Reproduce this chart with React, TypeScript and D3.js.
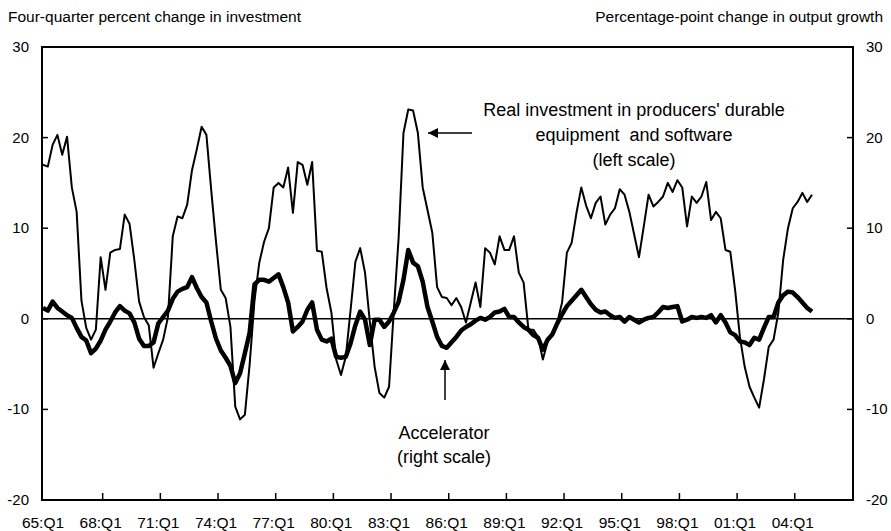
import React from "react";
import * as d3 from "d3";

const investment: number[] = [
  17, 16.8, 19.2, 20.3, 18.1, 20.1, 14.5, 11.8, 2, -1,
  -2.3, -1.2, 6.8, 3.2, 7.3, 7.6, 7.7, 11.5, 10.5, 6.5,
  1.9, 0.2, -0.7, -5.4, -3.8, -2.3, 0.2, 9.1, 11.3, 11.1,
  12.6, 16.4, 18.7, 21.2, 20.3, 14.2, 8.5, 3.2, 2.3, -0.9,
  -9.7, -11.1, -10.6, -5, 2, 6.2, 8.5, 10, 14.5, 15,
  14.5, 16.7, 11.7, 17.3, 17, 14.8, 17.3, 7.5, 7.4, 3.4,
  0.7, -4.5, -6.2, -4.2, 1, 6.3, 7.8, 5.1, -0.3, -5.3,
  -8.2, -8.7, -7.5, 1, 9, 20.5, 23.1, 23, 20.5, 14.5,
  12, 9.5, 3.5, 2.4, 2.3, 1.5, 2.3, 1.3, -0.4, 1.8,
  4, 1.3, 7.8, 7.3, 6, 9.1, 7.6, 7.6, 9.1, 5.1,
  4, -1.2, -1.2, -2, -4.5, -2.5, -1.5, -0.4, 1.8, 7.3,
  8.4, 11.7, 14.5, 12.5, 11.1, 12.8, 13.5, 10.4, 11.5, 12.2,
  14.3, 13.7, 11.8, 9.3, 6.8, 10.2, 13.7, 12.4, 12.9, 13.5,
  15, 14, 15.3, 14.5, 10.2, 13.5, 12.8, 13.5, 15.1, 10.9,
  11.8, 11.1, 7.6, 7.4, 3.2, -2, -5.3, -7.5, -8.7, -9.8,
  -6.7, -3.1, -2.3, 0.7, 6.5, 10, 12.2, 12.9, 13.9, 12.9,
  13.7,
];

const accelerator: number[] = [
  1.2, 0.9, 1.9, 1.2, 0.8, 0.4, 0.1, -1, -2, -2.4,
  -3.8, -3.3, -2.4, -1.2, -0.3, 0.7, 1.4, 0.9, 0.6, -0.4,
  -2.2, -3, -3, -2.6, -0.5, 0.2, 0.9, 2.2, 3, 3.3,
  3.5, 4.6, 3.4, 2.4, 1.8, -0.3, -2.2, -3.5, -4.3, -5.2,
  -7.1, -6, -3.8, -1.5, 3.8, 4.3, 4.3, 4.1, 4.5, 4.9,
  3.5, 1.8, -1.4, -0.9, -0.3, 1, 1.8, -1.2, -2.3, -2.5,
  -2.2, -4.2, -4.3, -4.2, -2.7, -0.7, 0.8, -0.1, -2.9, -0.1,
  -0.1, -0.9, -0.3, 0.7, 1.9, 4.3, 7.6, 6.2, 5.8, 4.1,
  1.3, -0.3, -2, -3, -3.2, -2.6, -2, -1.3, -0.9, -0.6,
  -0.2, 0.1, -0.1, 0.2, 0.7, 0.8, 1.1, 0.2, 0.2, -0.4,
  -0.9, -1.2, -1.8, -2.1, -3.4, -2.3, -1.7, -0.5, 0.5, 1.4,
  2, 2.6, 3.2, 2.4, 1.6, 1, 0.7, 0.8, 0.4, 0.1,
  0.2, -0.3, 0.2, -0.1, -0.4, -0.1, 0.1, 0.2, 0.7, 1.3,
  1.2, 1.3, 1.4, -0.3, -0.1, 0.2, 0.1, 0.2, 0.1, 0.4,
  -0.4, 0.4, -0.4, -1.5, -1.8, -2.5, -2.6, -2.9, -2.1, -2.3,
  -1, 0.2, 0.2, 1.8, 2.6, 3, 2.9, 2.4, 1.8, 1.2,
  0.8,
];

const xTickLabels: string[] = [
  "65:Q1", "68:Q1", "71:Q1", "74:Q1", "77:Q1", "80:Q1", "83:Q1",
  "86:Q1", "89:Q1", "92:Q1", "95:Q1", "98:Q1", "01:Q1", "04:Q1",
];
const yTicks: number[] = [30, 20, 10, 0, -10, -20];

const leftTitle = "Four-quarter percent change in investment";
const rightTitle = "Percentage-point change in output growth";
const invLabel = ["Real investment in producers' durable", "equipment  and software", "(left scale)"];
const accLabel = ["Accelerator", "(right scale)"];

const W = 891;
const H = 531;
const plotLeft = 42;
const plotRight = 853;
const plotTop = 47;
const plotBottom = 500;
const FONT = "'Liberation Sans', Arial, sans-serif";

export default function App() {
  const x = d3.scaleLinear().domain([0, 160]).range([43, 812]);
  const y = d3.scaleLinear().domain([-20, 30]).range([plotBottom, plotTop]);

  const line = d3
    .line<number>()
    .x((_, i) => x(i))
    .y((d) => y(d));

  const tickIdx = xTickLabels.map((_, k) => k * 12);

  return (
    <svg
      width={W}
      height={H}
      style={{ position: "absolute", left: 0, top: 0, background: "#fff" }}
      fontFamily={FONT}
    >
      <defs>
        <marker
          id="arrowHead"
          viewBox="0 0 10 10"
          refX="10"
          refY="5"
          markerWidth="10"
          markerHeight="10"
          markerUnits="userSpaceOnUse"
          orient="auto"
        >
          <path d="M0,0 L10,5 L0,10 z" fill="#000" />
        </marker>
      </defs>
      <rect x={0} y={0} width={W} height={H} fill="#fff" />

      {/* titles */}
      <text x={8} y={22} fontSize={15.5} fill="#000">
        {leftTitle}
      </text>
      <text x={883} y={22} fontSize={15.5} fill="#000" textAnchor="end">
        {rightTitle}
      </text>

      {/* y tick labels and ticks */}
      {yTicks.map((t) => (
        <g key={t}>
          <text x={29} y={y(t) + 5} fontSize={15} textAnchor="end" fill="#000">
            {t}
          </text>
          <text x={866} y={y(t) + 5} fontSize={15} textAnchor="start" fill="#000">
            {t}
          </text>
          <line x1={plotLeft} x2={plotLeft + 6} y1={y(t)} y2={y(t)} stroke="#000" strokeWidth={1.5} />
          <line x1={plotRight - 6} x2={plotRight} y1={y(t)} y2={y(t)} stroke="#000" strokeWidth={1.5} />
        </g>
      ))}

      {/* x ticks and labels */}
      {tickIdx.map((ti, k) => (
        <g key={ti}>
          {k > 0 && (
            <line x1={x(ti) + 2} x2={x(ti) + 2} y1={plotBottom} y2={plotBottom - 7} stroke="#000" strokeWidth={1.5} />
          )}
          <text x={x(ti)} y={528} fontSize={15.5} textAnchor="middle" fill="#000">
            {xTickLabels[k]}
          </text>
        </g>
      ))}

      {/* zero line */}
      <line x1={plotLeft} x2={plotRight} y1={y(0)} y2={y(0)} stroke="#000" strokeWidth={1.6} />

      {/* series */}
      <path d={line(investment) || ""} fill="none" stroke="#000" strokeWidth={2} strokeLinejoin="round" />
      <path d={line(accelerator) || ""} fill="none" stroke="#000" strokeWidth={4.5} strokeLinejoin="round" />

      {/* frame */}
      <rect
        x={plotLeft}
        y={plotTop}
        width={plotRight - plotLeft}
        height={plotBottom - plotTop}
        fill="none"
        stroke="#000"
        strokeWidth={2}
      />

      {/* annotations */}
      {invLabel.map((s, i) => (
        <text
          key={s}
          x={634}
          y={116 + i * 25}
          fontSize={18}
          textAnchor="middle"
          fill="#000"
          style={{ whiteSpace: "pre" }}
        >
          {s}
        </text>
      ))}
      <line x1={472} x2={428} y1={133} y2={133} stroke="#000" strokeWidth={1.5} markerEnd="url(#arrowHead)" />

      {accLabel.map((s, i) => (
        <text key={s} x={444} y={439 + i * 24} fontSize={18} textAnchor="middle" fill="#000">
          {s}
        </text>
      ))}
      <line x1={445} x2={445} y1={400} y2={360} stroke="#000" strokeWidth={1.5} markerEnd="url(#arrowHead)" />
    </svg>
  );
}
